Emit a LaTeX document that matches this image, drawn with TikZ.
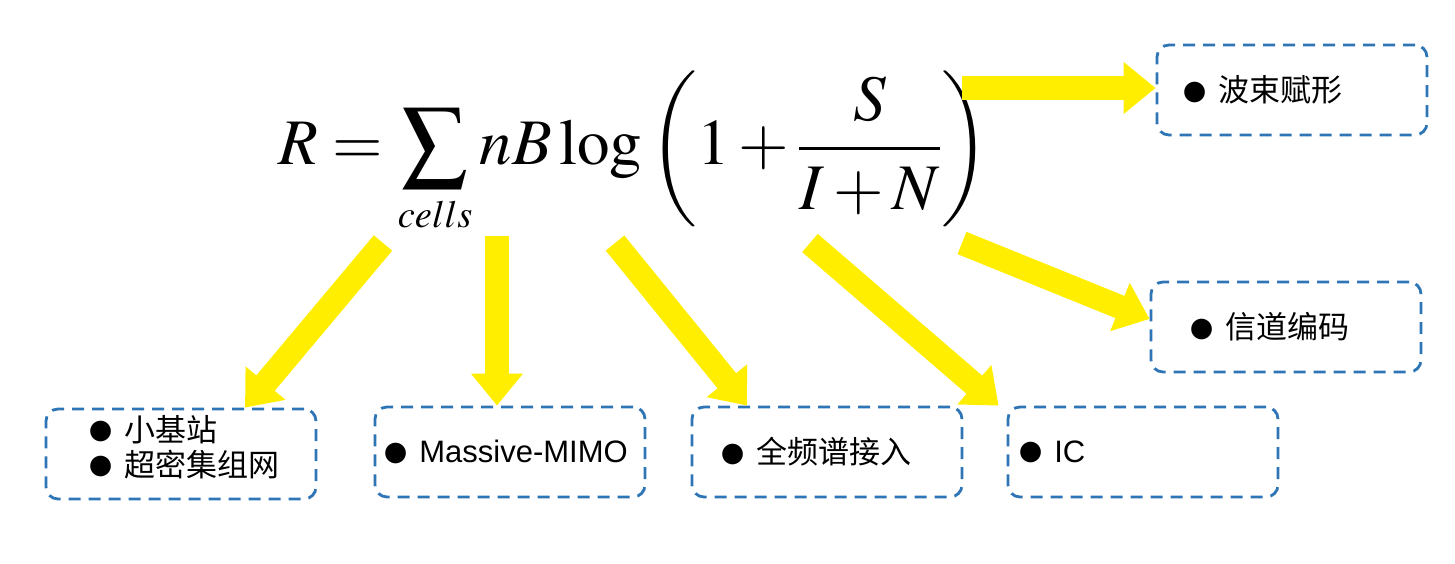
\documentclass[tikz,border=0pt]{standalone}
\usepackage{mathptmx}
\usepackage[no-math]{fontspec}
\newfontfamily\cnfont{Noto Sans CJK SC}
\newfontfamily\latfont{Liberation Sans}
\newfontfamily\symfont{DejaVu Sans}
\usetikzlibrary{arrows.meta,positioning}

\definecolor{boxblue}{RGB}{46,117,182}
\definecolor{arrowyellow}{RGB}{255,238,0}
\newcommand{\bul}{\raisebox{2.5pt}{\symfont\fontsize{27}{27}\selectfont ●}\hspace{12pt}}

\begin{document}
\begin{tikzpicture}[x=1pt, y=-1pt,
    box/.style={draw=boxblue, line width=2.8pt, dash pattern=on 12pt off 8pt,
      rounded corners=12pt, minimum width=270pt, minimum height=90pt},
    item/.style={anchor=west, inner sep=0pt, align=left,
      font=\fontsize{31}{35}\selectfont},
    fat/.style={draw=arrowyellow, line width=24pt,
      -{Triangle[length=32pt,width=50pt]}}]
  \useasboundingbox (0,0) rectangle (1455,564);

  % 公式
  \node[anchor=base, inner sep=0pt] (rate) at (634,165)
    {\fontsize{65}{78}\selectfont
     $\displaystyle R=\sum_{\scalebox{0.8}{$\scriptstyle cells$}} nB\log\left(1+\frac{S}{I+N}\right)$};

  % 下面的框
  \node[box] (small) at (181,454) {};
  \node[box] (mimo) at (510,452) {};
  \node[box] (spec) at (827,452) {};
  \node[box] (ic) at (1143,452) {};
  % 右边的框
  \node[box] (code) at (1286,327) {};
  \node[box] (beam) at (1292,90) {};

  \node[item] (smalltxt) at ([xshift=44pt,yshift=7pt]small.west)
    {\bul{\cnfont 小基站}\\ \bul{\cnfont 超密集组网}};
  \node[item] (mimotxt) at ([xshift=10pt]mimo.west) {\bul{\latfont Massive-MIMO}};
  \node[item] (spectxt) at ([xshift=30pt]spec.west) {\bul{\cnfont 全频谱接入}};
  \node[item] (ictxt) at ([xshift=12pt]ic.west) {\bul{\latfont IC}};
  \node[item] (codetxt) at ([xshift=40pt]code.west) {\bul{\cnfont 信道编码}};
  \node[item] (beamtxt) at ([xshift=27pt]beam.west) {\bul{\cnfont 波束赋形}};

  % 箭头起点
  \coordinate (fromsum) at (383,243);
  \coordinate (fromn) at (497,236);
  \coordinate (fromb) at (615,243);
  \coordinate (fromi) at (810,243);
  \coordinate (fromsn) at (962,243);
  \coordinate (fromlog) at (962,88);

  \draw[fat] (fromsum) -- ([xshift=64pt]small.north);
  \draw[fat] (fromn) -- (fromn |- mimo.north);
  \draw[fat] (fromb) -- ([xshift=-80pt]spec.north);
  \draw[fat] (fromi) -- ([xshift=-8pt]ic.north west);
  \draw[fat] (fromsn) -- ([yshift=8pt]code.west);
  \draw[fat] (fromlog) -- (fromlog -| beam.west);
\end{tikzpicture}
\end{document}
